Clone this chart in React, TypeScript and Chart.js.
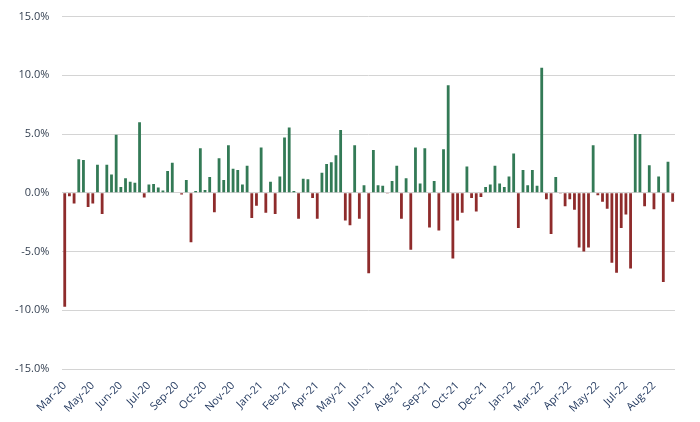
import React, { useEffect, useRef } from 'react';
import Chart from 'chart.js/auto';

// weekly returns (%), one value per Friday from 20 Mar 2020
const returns2020 = [
    -9.7, -0.3, -0.9, 2.85, 2.8, -1.2, -0.9, 2.4, -1.8, 2.4,
    1.55, 4.95, 0.5, 1.25, 0.95, 0.85, 6.0, -0.4, 0.7, 0.75,
    0.45, 0.2, 1.85, 2.55, 0.05, -0.15, 1.1, -4.2, 0.15, 3.8,
    0.25, 1.35, -1.65, 2.95, 1.1, 4.05, 2.05, 1.95, 0.7, 2.3,
    -2.15,
];
const returns2021 = [
    -1.1, 3.85, -1.7, 0.95, -1.8, 1.4, 4.7, 5.55, 0.15, -2.2,
    1.2, 1.15, -0.45, -2.2, 1.7, 2.45, 2.6, 3.2, 5.35, -2.35,
    -2.75, 4.05, -2.2, 0.65, -6.85, 3.65, 0.65, 0.6, -0.05, 1.0,
    2.3, -2.2, 1.25, -4.85, 3.85, 0.8, 3.8, -2.95, 1.0, -3.2,
    3.7, 9.15, -5.6, -2.35, -1.7, 2.25, -0.45, -1.6, -0.35, 0.5,
    0.7, 2.3, 0.8,
];
const returns2022 = [
    0.5, 1.4, 3.35, -3.0, 1.95, 0.65, 1.95, 0.6, 10.65, -0.55,
    -3.5, 1.35, -0.05, -1.15, -0.55, -1.45, -4.65, -5.0, -4.65, 4.05,
    -0.2, -0.75, -1.35, -5.95, -6.8, -3.0, -1.85, -6.45, 5.0, 5.0,
    -1.15, 2.35, -1.4, 1.4, -7.6, 2.65, -0.75,
];
const weeklyReturns = [...returns2020, ...returns2021, ...returns2022];

const monthNames = ['Jan', 'Feb', 'Mar', 'Apr', 'May', 'Jun', 'Jul', 'Aug', 'Sep', 'Oct', 'Nov', 'Dec'];
const firstWeek = Date.UTC(2020, 2, 20);
const weekLabels = weeklyReturns.map((_, i) => {
    const d = new Date(firstWeek + i * 7 * 86400000);
    return monthNames[d.getUTCMonth()] + '-' + String(d.getUTCFullYear()).slice(2);
});
const labelEvery = 6;

const upColor = '#337a56';
const downColor = '#8e2b2b';

const ReturnsChart = () => {
    const chartRef = useRef<HTMLCanvasElement>(null);

    useEffect(() => {
        if (!chartRef?.current) return;
        const ctx = chartRef.current.getContext('2d');
        if (!ctx) return;
        const myChart = new Chart(ctx, {
            type: 'bar',
            data: {
                labels: weekLabels,
                datasets: [{
                    data: weeklyReturns,
                    backgroundColor: weeklyReturns.map(v => (v >= 0 ? upColor : downColor)),
                    barPercentage: 0.6,
                    categoryPercentage: 1,
                }]
            },
            options: {
                animation: false,
                responsive: true,
                maintainAspectRatio: false,
                layout: {
                    padding: { left: 2, right: 25, top: 0, bottom: 5 }
                },
                plugins: {
                    legend: { display: false },
                    tooltip: { enabled: false }
                },
                scales: {
                    x: {
                        grid: { display: false },
                        border: { display: false },
                        ticks: {
                            autoSkip: false,
                            maxRotation: 45,
                            minRotation: 45,
                            padding: 2,
                            color: '#243a60',
                            font: { family: '"Open Sans", sans-serif', size: 11 },
                            callback: (_v, i) => (i % labelEvery === 0 ? weekLabels[i] : null),
                        }
                    },
                    y: {
                        min: -15,
                        max: 15,
                        grid: { color: '#d4d4d4', drawTicks: false },
                        border: { display: false },
                        ticks: {
                            stepSize: 5,
                            padding: 13,
                            color: '#333f50',
                            font: { family: '"Open Sans", sans-serif', size: 11 },
                            callback: v => Number(v).toFixed(1) + '%',
                        }
                    }
                }
            }
        });

        return () => {
            myChart.destroy();
        };
    }, []);

    return <canvas ref={chartRef} />;
};

export default function App() {
    return (
        <div style={{ position: 'absolute', left: 0, top: -3, width: 700, height: 425, background: '#fff' }}>
            <ReturnsChart />
        </div>
    );
}
